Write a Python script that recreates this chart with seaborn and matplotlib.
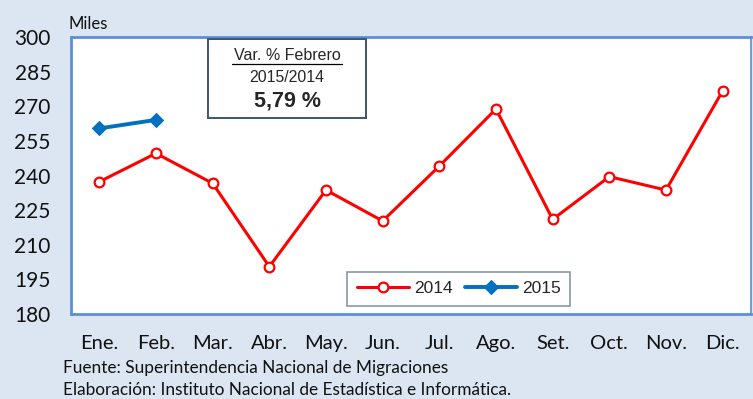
import matplotlib
matplotlib.use("Agg")
import matplotlib.pyplot as plt
import seaborn as sns
import pandas as pd
import numpy as np

months = ["Ene.", "Feb.", "Mar.", "Abr.", "May.", "Jun.", "Jul.", "Ago.",
          "Set.", "Oct.", "Nov.", "Dic."]
arrivals_2014 = [237.3, 249.6, 236.6, 200.5, 233.7, 220.3, 244.1, 268.8,
                 221.0, 239.5, 233.7, 276.7]
arrivals_2015 = [260.4, 264.1]
y_ticks = [180, 195, 210, 225, 240, 255, 270, 285, 300]

df = pd.concat([
    pd.DataFrame({"mes": months, "valor": arrivals_2014, "anio": "2014"}),
    pd.DataFrame({"mes": months[:len(arrivals_2015)], "valor": arrivals_2015, "anio": "2015"}),
])

sns.set_theme(style="white")
plt.rcParams["font.family"] = ["Lato", "DejaVu Sans"]

bg = "#dce6f2"
spine_c = "#5b8fd6"
fig = plt.figure(figsize=(7.53, 3.99), dpi=100, facecolor=bg)
ax = fig.add_axes([71 / 753, (399 - 314) / 399, 680 / 753, 277 / 399])
ax.set_facecolor("white")

sns.lineplot(data=df[df.anio == "2014"], x="mes", y="valor", ax=ax,
             color="#ff0000", lw=2.2, marker="o", markersize=7,
             markerfacecolor="white", markeredgecolor="#ff0000",
             markeredgewidth=1.6, label="2014", sort=False)
sns.lineplot(data=df[df.anio == "2015"], x="mes", y="valor", ax=ax,
             color="#0070c0", lw=2.8, marker="D", markersize=7,
             markerfacecolor="#0070c0", markeredgecolor="#0070c0",
             label="2015", sort=False)

ax.set_xlim(-0.5, 11.5)
ax.set_ylim(180, 300)
ax.set_yticks(y_ticks)
ax.set_xticks(range(12))
ax.set_xticklabels(months)
ax.set_xticks(np.arange(-0.5, 12, 1), minor=True)
ax.tick_params(axis="x", which="major", length=0, pad=15, labelsize=14.5, colors="#111111")
ax.tick_params(axis="x", which="minor", length=5, width=1.2, color=spine_c, direction="out")
ax.tick_params(axis="y", which="major", length=4.5, width=1.2, color=spine_c,
               direction="out", labelsize=15, labelcolor="#111111", pad=10)
ax.set_xlabel("")
ax.set_ylabel("")
for s in ax.spines.values():
    s.set_visible(True)
    s.set_color(spine_c)
    s.set_linewidth(2.0)
ax.spines["right"].set_linewidth(1.2)

leg = ax.legend(loc="lower left", bbox_to_anchor=(276 / 680, 8 / 277), ncol=2,
                frameon=True, fancybox=False, handlelength=3.0,
                columnspacing=0.7, handletextpad=0.3, borderpad=0.55,
                borderaxespad=0,
                prop={"family": "Liberation Sans", "size": 12.5})
leg.get_frame().set_edgecolor("#6b7b93")
leg.get_frame().set_linewidth(1.2)

fig.text(68 / 753, 1 - 24 / 399, "Miles", fontsize=12, va="center", ha="left",
         color="#111111")

# annotation box with the year-on-year change
box_l, box_r, box_t, box_b = 208, 366, 39, 118
fig.patches.append(plt.Rectangle((box_l / 753, 1 - box_b / 399),
                                 (box_r - box_l) / 753, (box_b - box_t) / 399,
                                 transform=fig.transFigure, facecolor="white",
                                 edgecolor="#3b5573", lw=1.4, zorder=5))
cx = (box_l + box_r) / 2 / 753
fig.text(cx, 1 - 55 / 399, "Var. % Febrero", ha="center", va="center",
         fontsize=11.5, family="Liberation Sans", zorder=6)
fig.add_artist(plt.Line2D([232 / 753, 342 / 753],
                          [1 - 63.5 / 399, 1 - 63.5 / 399],
                          transform=fig.transFigure, color="black", lw=0.9, zorder=6))
fig.text(cx, 1 - 78 / 399, "2015/2014", ha="center", va="center",
         fontsize=11.4, family="Liberation Sans", zorder=6)
fig.text(cx, 1 - 101 / 399, "5,79 %", ha="center", va="center",
         fontsize=15.5, fontweight="bold", family="Liberation Sans", zorder=6)

fig.text(63 / 753, 1 - 368 / 399, "Fuente: Superintendencia Nacional de Migraciones",
         fontsize=12.4, va="center", ha="left", color="#111111")
fig.text(63 / 753, 1 - 390 / 399,
         "Elaboración: Instituto Nacional de Estadística e Informática.",
         fontsize=12.4, va="center", ha="left", color="#111111")

fig.savefig("out.png", dpi=100, facecolor=bg)
